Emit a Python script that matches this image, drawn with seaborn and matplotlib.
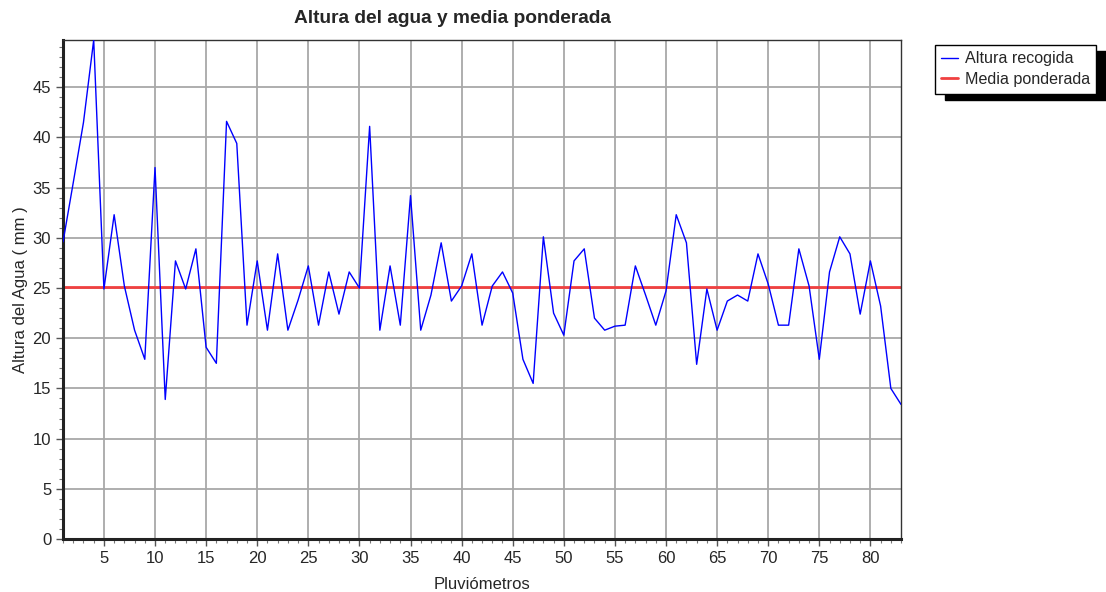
import numpy as np
import pandas as pd
import seaborn as sns
import matplotlib.pyplot as plt
from matplotlib.ticker import MultipleLocator

# Data
pluviometros = list(range(1, 84))
altura = [
    29.6, 35.5, 41.5, 49.7, 24.9, 32.3, 25.2, 20.8, 17.9, 37.0,
    13.9, 27.7, 24.9, 28.9, 19.1, 17.5, 41.6, 39.4, 21.3, 27.7,
    20.8, 28.4, 20.8, 23.8, 27.2, 21.3, 26.6, 22.4, 26.6, 25.0,
    41.1, 20.8, 27.2, 21.3, 34.2, 20.8, 24.3, 29.5, 23.7, 25.2,
    28.4, 21.3, 25.2, 26.6, 24.5, 17.9, 15.5, 30.1, 22.5, 20.3,
    27.7, 28.9, 22.0, 20.8, 21.2, 21.3, 27.2, 24.3, 21.3, 24.7,
    32.3, 29.5, 17.4, 24.9, 20.8, 23.7, 24.3, 23.7, 28.4, 25.4,
    21.3, 21.3, 28.9, 25.2, 17.9, 26.6, 30.1, 28.4, 22.4, 27.7,
    23.2, 15.0, 13.4,
]
media_ponderada = 25.1

df = pd.DataFrame({'pluviometro': pluviometros, 'altura': altura})
df['media'] = media_ponderada

sns.set_style('white')
plt.rcParams['font.family'] = ['Liberation Sans', 'DejaVu Sans']

fig = plt.figure(figsize=(11.06, 5.92), dpi=100)
ax = fig.add_axes([0.0570, 0.0895, 0.7577, 0.8429])

sns.lineplot(data=df, x='pluviometro', y='altura', color='#0000ff',
             linewidth=1.0, ax=ax, label='Altura recogida', zorder=3)
sns.lineplot(data=df, x='pluviometro', y='media', color='#f04040',
             linewidth=2.0, ax=ax, label='Media ponderada', zorder=2)

ax.set_xlim(1, 83)
ax.set_ylim(0, 49.7)
ax.xaxis.set_major_locator(MultipleLocator(5))
ax.xaxis.set_minor_locator(MultipleLocator(1))
ax.yaxis.set_major_locator(MultipleLocator(5))
ax.yaxis.set_minor_locator(MultipleLocator(1))
ax.grid(which='major', color='#a8a8a8', linewidth=1.3)
ax.tick_params(which='major', direction='out', length=5, width=1,
               labelsize=12, bottom=True, left=True, color='#555555')
ax.tick_params(which='minor', direction='out', length=3, width=0.8,
               bottom=True, left=True, color='#777777')
xt = ax.get_xticks()
ax.set_xticks([t for t in xt if 5 <= t <= 80])

for side in ['top', 'right']:
    ax.spines[side].set_linewidth(1.0)
    ax.spines[side].set_color('#333333')
for side in ['left', 'bottom']:
    ax.spines[side].set_linewidth(2.2)
    ax.spines[side].set_color('#222222')

ax.set_xlabel('Pluviómetros', fontsize=12, labelpad=8)
ax.set_ylabel('Altura del Agua ( mm )', fontsize=12, labelpad=3)
fig.text(0.4087, 0.969, 'Altura del agua y media ponderada', fontsize=13.8,
         fontweight='bold', ha='center', va='center')

ax.legend(loc='upper left', bbox_to_anchor=(0.8454, 0.924),
          bbox_transform=fig.transFigure, fontsize=11.6, frameon=True,
          fancybox=False, edgecolor='black', framealpha=1,
          shadow={'color': 'black', 'alpha': 1, 'ox': 7, 'oy': -4.5},
          handlelength=1.0, handletextpad=0.45, borderpad=0.4,
          labelspacing=0.35, borderaxespad=0)

fig.savefig('out.png', dpi=100)
